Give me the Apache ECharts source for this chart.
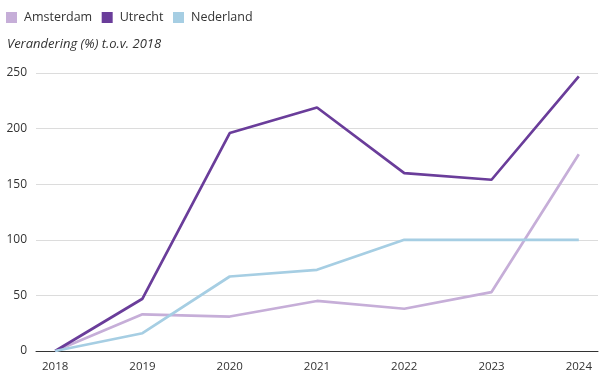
<!DOCTYPE html>
<html><head><meta charset="utf-8">
<script src="https://cdn.jsdelivr.net/npm/echarts@6/dist/echarts.min.js"></script>
<style>html,body{margin:0;padding:0;background:#fff}#c{width:605px;height:376px}</style>
</head><body><div id="c"></div>
<script>
var years = [2018, 2019, 2020, 2021, 2022, 2023, 2024];
var amsterdam = [0, 33, 31, 45, 38, 53, 177];
var utrecht = [0, 47, 196, 219, 160, 154, 247];
var nederland = [0, 16, 67, 73, 100, 100, 100];
var yTicks = [0, 50, 100, 150, 200, 250];

function pairs(v){ return years.map(function(y,i){return [y, v[i]];}); }
var font = '"Open Sans", sans-serif';
var chart = echarts.init(document.getElementById('c'), null, {renderer:'canvas'});
chart.setOption({
  animation:false,
  textStyle:{fontFamily:font},
  legend:{left:1, top:6, itemWidth:11, itemHeight:11, itemGap:9.5, icon:'rect',
    textStyle:{fontFamily:font, fontSize:12.5, color:'#333', padding:[0,0,0,2]},
    data:['Amsterdam','Utrecht','Nederland']},
  title:{text:'Verandering (%) t.o.v. 2018', left:2, top:33,
    textStyle:{fontFamily:font, fontSize:13, fontStyle:'italic', fontWeight:'normal', color:'#333'}},
  grid:{left:36, right:7, top:73, bottom:25},
  xAxis:{type:'value', min:2017.78, max:2024.22,
    axisLine:{show:true, onZero:false, lineStyle:{color:'#333', width:1}},
    axisTick:{show:false},
    splitLine:{show:false},
    axisLabel:{customValues:years, formatter:function(v){return String(v);}, color:'#333', fontSize:11.5, fontFamily:font, margin:10}},
  yAxis:{type:'value', min:0, max:250, interval:50,
    axisLine:{show:false}, axisTick:{show:false},
    splitLine:{lineStyle:{color:'#dcdcdc', width:1}},
    axisLabel:{color:'#333', fontSize:12, fontFamily:font, margin:9}},
  series:[
    {name:'Amsterdam', type:'line', data:pairs(amsterdam), symbol:'none', color:'#c6aed8', lineStyle:{width:2.7}},
    {name:'Utrecht', type:'line', data:pairs(utrecht), symbol:'none', color:'#6a3d9a', lineStyle:{width:2.7}},
    {name:'Nederland', type:'line', data:pairs(nederland), symbol:'none', color:'#a6cee3', lineStyle:{width:2.7}}
  ]
});
</script></body></html>
